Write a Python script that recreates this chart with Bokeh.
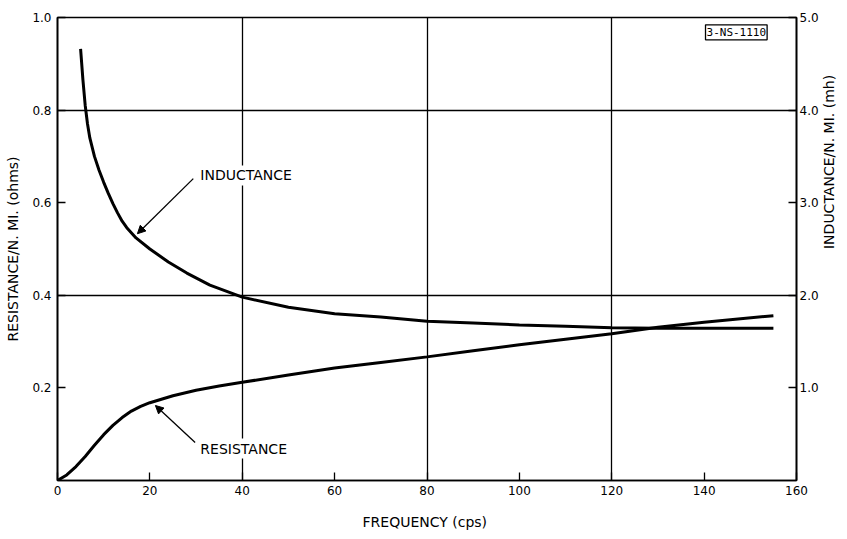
import math
from bokeh.plotting import figure
from bokeh.models import (Range1d, LinearAxis, FixedTicker, Label, Arrow,
                          NormalHead, CustomJSTickFormatter)
from bokeh.embed import file_html
from bokeh.resources import INLINE

# ---- data ----
res_freq = [0, 2, 4, 6, 8, 10, 12, 14, 16, 18, 20, 25, 30, 35, 40, 50, 60,
            70, 80, 90, 100, 110, 120, 130, 140, 155]
res_ohms = [0.0, 0.012, 0.030, 0.052, 0.076, 0.099, 0.119, 0.136, 0.150,
            0.160, 0.168, 0.183, 0.195, 0.204, 0.212, 0.228, 0.243, 0.255,
            0.267, 0.280, 0.293, 0.305, 0.317, 0.331, 0.342, 0.356]

ind_freq = [5, 5.5, 6, 6.5, 7, 8, 9, 10, 11, 12, 13, 14, 15, 17, 20, 24, 28,
            33, 40, 50, 60, 70, 80, 90, 100, 110, 120, 130, 140, 155]
ind_mh = [4.66, 4.33, 4.05, 3.85, 3.70, 3.50, 3.35, 3.22, 3.10, 2.99, 2.89,
          2.80, 2.73, 2.62, 2.50, 2.36, 2.24, 2.11, 1.98, 1.87, 1.80, 1.765,
          1.72, 1.70, 1.68, 1.665, 1.65, 1.645, 1.645, 1.645]

x_ticks = [0, 20, 40, 60, 80, 100, 120, 140, 160]
left_ticks = [0.2, 0.4, 0.6, 0.8, 1.0]
right_ticks = [1.0, 2.0, 3.0, 4.0, 5.0]
x_grid = [40, 80, 120]
y_grid = [0.4, 0.8]

FONT = "DejaVu Sans"

p = figure(width=847, height=539, x_range=Range1d(0, 160),
           y_range=Range1d(0, 1), output_backend="svg",
           toolbar_location=None, min_border_left=57, min_border_right=50,
           min_border_top=17, min_border_bottom=59)
p.extra_y_ranges = {"L": Range1d(0, 5)}
p.background_fill_color = "white"
p.border_fill_color = "white"
p.outline_line_color = "black"
p.outline_line_width = 1.6

right = LinearAxis(y_range_name="L")
p.add_layout(right, "right")

p.xaxis.ticker = FixedTicker(ticks=x_ticks)
p.yaxis[0].ticker = FixedTicker(ticks=left_ticks)
right.ticker = FixedTicker(ticks=right_ticks)
p.yaxis[0].formatter = CustomJSTickFormatter(code="return tick.toFixed(1);")
right.formatter = CustomJSTickFormatter(code="return tick.toFixed(1);")

p.xaxis.axis_label = "FREQUENCY  (cps)"
p.yaxis[0].axis_label = "RESISTANCE/N. MI. (ohms)"
right.axis_label = "INDUCTANCE/N. MI. (mh)"
right.axis_label_orientation = math.pi / 2

for ax in [p.xaxis[0], p.yaxis[0], right]:
    ax.axis_line_color = "black"
    ax.axis_line_width = 1.6
    ax.major_tick_in = 8
    ax.major_tick_out = 0
    ax.major_tick_line_color = "black"
    ax.major_tick_line_width = 1.3
    ax.minor_tick_line_color = None
    ax.major_label_text_font = FONT
    ax.major_label_text_font_size = "12px"
    ax.major_label_text_color = "black"
    ax.axis_label_text_font = FONT
    ax.axis_label_text_font_size = "14px"
    ax.axis_label_text_font_style = "normal"
    ax.axis_label_text_color = "black"

p.xaxis.major_label_standoff = 5
p.xaxis.axis_label_standoff = 16
p.yaxis[0].major_label_standoff = 6
p.yaxis[0].axis_label_standoff = 8
right.major_label_standoff = 3
right.axis_label_standoff = 7

p.xgrid.ticker = FixedTicker(ticks=x_grid)
p.ygrid.ticker = FixedTicker(ticks=y_grid)
for g in [p.xgrid[0], p.ygrid[0]]:
    g.grid_line_color = "black"
    g.grid_line_width = 1.3
    g.grid_line_alpha = 1.0

p.line(res_freq, res_ohms, line_color="black", line_width=3)
p.line(ind_freq, ind_mh, line_color="black", line_width=3, y_range_name="L")

# annotations
for txt, xx, yy in [("INDUCTANCE", 30.5, 0.659), ("RESISTANCE", 30.5, 0.069)]:
    p.add_layout(Label(x=xx, y=yy, text=txt, text_font=FONT,
                       text_font_size="14px", text_color="black",
                       text_baseline="middle", text_align="left",
                       background_fill_color="white", padding=2))

p.add_layout(Arrow(end=NormalHead(size=8, fill_color="black",
                                  line_color="black"),
                   x_start=29.4, y_start=0.652, x_end=17.3, y_end=0.533,
                   line_color="black", line_width=1.3))
p.add_layout(Arrow(end=NormalHead(size=8, fill_color="black",
                                  line_color="black"),
                   x_start=29.8, y_start=0.082, x_end=21.2, y_end=0.162,
                   line_color="black", line_width=1.3))

p.add_layout(Label(x=140.3, y=0.968, text="3-NS-1110",
                   text_font="DejaVu Sans Mono", text_font_size="11px",
                   text_color="black", text_baseline="middle",
                   text_align="left", border_line_color="black",
                   border_line_width=1.3, background_fill_color="white",
                   padding=1))

open("out.html", "w").write(file_html(p, INLINE))
